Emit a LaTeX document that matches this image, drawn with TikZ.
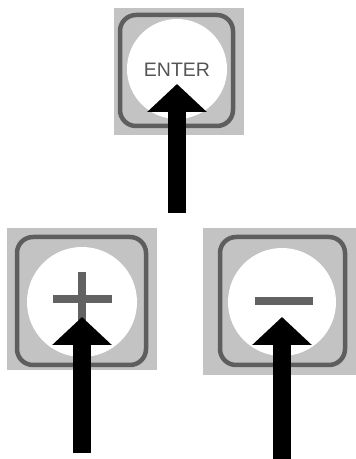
\documentclass[tikz,border=0pt]{standalone}
\usepackage{fontspec}
\usetikzlibrary{arrows.meta}
\newfontfamily\keyfont{Liberation Sans}
\definecolor{KeyGray}{HTML}{C3C3C3}
\definecolor{KeyRim}{HTML}{5E5E5E}
\definecolor{KeySign}{HTML}{626262}
\definecolor{KeyText}{HTML}{555555}

\begin{document}
\begin{tikzpicture}[x=1pt,y=1pt]
    \tikzset{bg/.style={fill=KeyGray,inner sep=0pt},
      rim/.style={draw=KeyRim,line width=4.5pt,rounded corners=16pt,inner sep=0pt},
      face/.style={circle,fill=white,inner sep=0pt},
      bar/.style={draw=KeySign,line width=8pt},
      pointer/.style={line width=18pt,-{Triangle[width=58pt,length=28pt]},shorten >=15pt}}
    \useasboundingbox (0,0) rectangle (356,459);
    % ENTER key
    \node[bg,minimum width=130pt,minimum height=127pt] (enterkey) at (179,387.5) {};
    \node[rim,minimum width=113pt,minimum height=111pt] (enterrim) at (176.5,388.5) {};
    \node[face,minimum size=100pt] (enterface) at (177,390) {};
    \node[font=\keyfont\fontsize{19.5}{20}\selectfont,text=KeyText] (entertxt) at (177,389.5) {ENTER};
    % plus key
    \node[bg,minimum width=150pt,minimum height=142pt] (pluskey) at (82,160) {};
    \node[rim,minimum width=129pt,minimum height=128pt] (plusrim) at (81.5,158) {};
    \node[face,minimum size=110pt] (plusface) at (82,157) {};
    \draw[bar] (53,160) -- (112,160);
    \draw[bar] (82,187) -- (82,133);
    % minus key
    \node[bg,minimum width=154pt,minimum height=147pt] (minuskey) at (280,157.5) {};
    \node[rim,minimum width=125pt,minimum height=128pt] (minusrim) at (282.5,158) {};
    \node[face,minimum size=108pt] (minusface) at (282,157) {};
    \draw[bar] (255,158) -- (313,158);
    % arrows
    \coordinate (enterfoot) at (177,246);
    \coordinate (plusfoot) at (82,6);
    \coordinate (minusfoot) at (282,0);
    \draw[pointer] (enterfoot) -- (enterface.center);
    \draw[pointer] (plusfoot) -- (plusface.center);
    \draw[pointer] (minusfoot) -- (minusface.center);
  \end{tikzpicture}
\end{document}
